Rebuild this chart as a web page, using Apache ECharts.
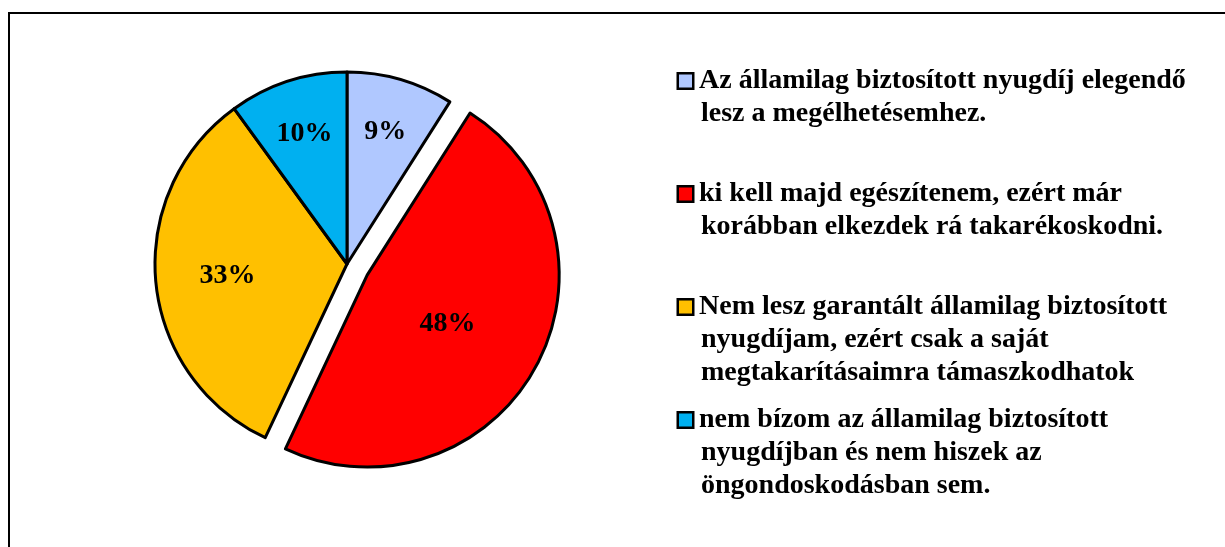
<!DOCTYPE html>
<html>
<head>
<meta charset="utf-8">
<script src="https://cdn.jsdelivr.net/npm/echarts@6/dist/echarts.min.js"></script>
<style>
  html, body { margin: 0; padding: 0; background: #fff; overflow: hidden; }
  #frame { position: absolute; left: 8px; top: 12px; width: 1400px; height: 700px; border: 2px solid #000; box-sizing: border-box; }
  #chart { position: absolute; left: 0; top: 0; width: 1225px; height: 547px; }
</style>
</head>
<body>
<div id="frame"></div>
<div id="chart"></div>
<script>
// ---- data ----
const categories = [
  "Az államilag biztosított nyugdíj elegendő\nlesz a megélhetésemhez.",
  "ki kell majd egészítenem, ezért már\nkorábban elkezdek rá takarékoskodni.",
  "Nem lesz garantált államilag biztosított\nnyugdíjam, ezért csak a saját\nmegtakarításaimra támaszkodhatok",
  "nem bízom az államilag biztosított\nnyugdíjban és nem hiszek az\nöngondoskodásban sem."
];
const values = [9, 48, 33, 10];
const exploded = [false, true, false, false];

// ---- style ----
const colors = ['#B0C8FF', '#FF0000', '#FFC000', '#00B0F0'];
const labelRadiusFrac = [0.70, 0.48, 0.61, 0.70];
const labelNudge = [[0, 0], [-3, 3], [0, 0], [0, 0]];
const center = [347, 264];
const radius = 192;
const serif = "'Liberation Serif', 'Times New Roman', serif";

const total = values.reduce((a, b) => a + b, 0);
let cum = 0;
const pieData = values.map((v, i) => {
  const midDeg = (cum + v / 2) / total * 360;
  cum += v;
  const a = midDeg * Math.PI / 180;
  const extra = radius * (labelRadiusFrac[i] - 0.5);
  const off = [extra * Math.sin(a) + labelNudge[i][0], -extra * Math.cos(a) + labelNudge[i][1]];
  return {
    name: categories[i],
    value: v,
    selected: exploded[i],
    itemStyle: { color: colors[i] },
    label: { offset: off },
    select: { label: { offset: off } }
  };
});

const LH = 33;
const rich = {
  t: { fontFamily: serif, fontWeight: 'bold', fontSize: 28, lineHeight: LH, color: '#000' },
  g: { width: 7, height: 10, lineHeight: LH },
  sp: { width: 22, height: 10, lineHeight: LH }
};
colors.forEach((c, i) => {
  rich['sq' + i] = { width: 13, height: 13, backgroundColor: c, borderColor: '#000', borderWidth: 2.5, lineHeight: LH };
});

const chart = echarts.init(document.getElementById('chart'), null, { renderer: 'canvas' });
chart.setOption({
  backgroundColor: 'transparent',
  animation: false,
  legend: {
    orient: 'vertical',
    left: 673,
    top: 67,
    padding: 0,
    itemGap: 19,
    itemWidth: 0,
    itemHeight: 0,
    selectedMode: false,
    data: categories,
    textStyle: { rich: rich },
    formatter: function (name) {
      const i = categories.indexOf(name);
      const lines = name.split('\n');
      while (lines.length < 3) lines.push(' ');
      return lines.map((ln, k) => {
        if (k === 0) return '{sq' + i + '|}{g|}{t|' + ln + '}';
        return '{sp|}{t|' + ln + '}';
      }).join('\n');
    }
  },
  series: [{
    type: 'pie',
    center: center,
    radius: radius,
    startAngle: 90,
    clockwise: true,
    selectedMode: 'multiple',
    selectedOffset: 23,
    avoidLabelOverlap: false,
    itemStyle: { borderColor: '#000', borderWidth: 3 },
    label: {
      show: true,
      position: 'inside',
      formatter: '{c}%',
      fontFamily: serif,
      fontWeight: 'bold',
      fontSize: 28,
      color: '#000'
    },
    labelLine: { show: false },
    emphasis: { disabled: true },
    select: { itemStyle: { borderColor: '#000', borderWidth: 3 } },
    data: pieData
  }]
});
</script>
</body>
</html>
